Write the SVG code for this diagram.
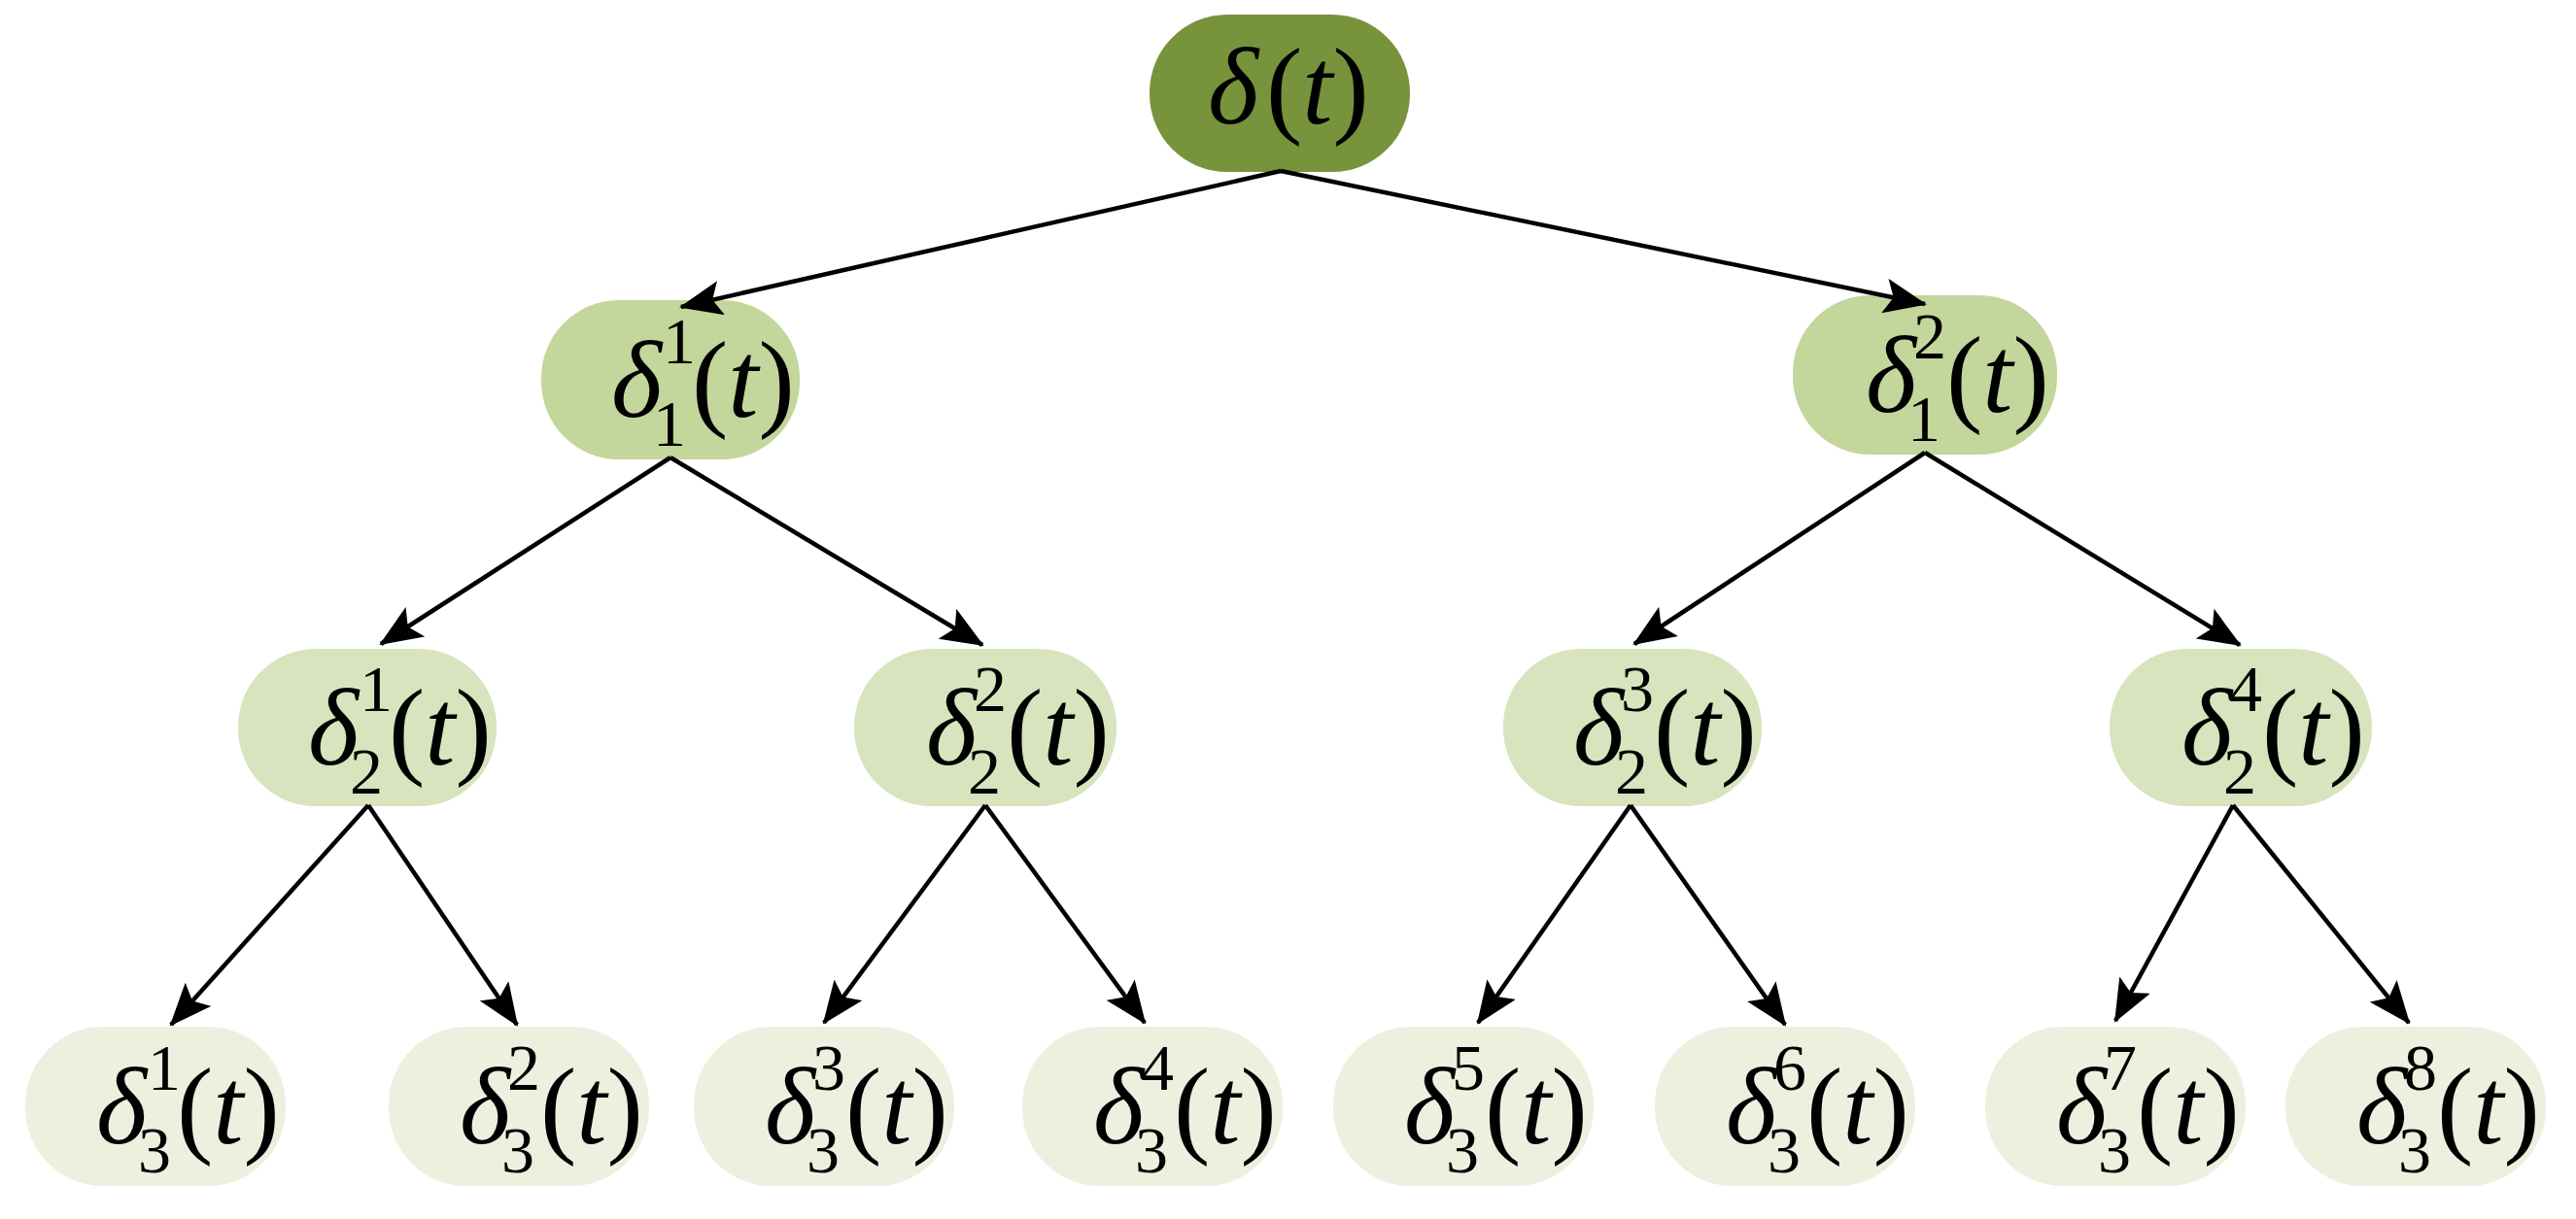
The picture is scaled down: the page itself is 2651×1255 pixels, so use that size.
<svg xmlns="http://www.w3.org/2000/svg" width="2651" height="1255" viewBox="0 0 2651 1255">
<style>
text{font-family:"Liberation Serif","Times New Roman","DejaVu Serif",serif;fill:#000}
.m{font-size:112px}
.i{font-style:italic}
.s{font-size:68px}
.e{stroke:#000;stroke-width:4.5;fill:none;marker-end:url(#a)}
.r{fill:#77933C}.l1{fill:#C3D69B}.l2{fill:#D7E4BD}.l3{fill:#EBF1DE}
</style>
<defs>
<marker id="a" markerUnits="userSpaceOnUse" markerWidth="44" markerHeight="36" viewBox="0 0 44 36" refX="42" refY="18" orient="auto">
<path d="M0,0 L44,18 L0,36 L9,18 Z" fill="#000"/>
</marker>
</defs>
<g id="root" transform="translate(1317,96)">
<rect class="r" x="-134" y="-81" width="268" height="162" rx="80"/>
<text class="m" y="31"><tspan class="i" x="-74">δ</tspan><tspan x="-14">(</tspan><tspan class="i">t</tspan><tspan>)</tspan></text>
</g>
<g id="n1_1" transform="translate(690,391)"><rect class="l1" x="-133" y="-82" width="266" height="164" rx="80"/><text class="m" y="38"><tspan class="i" x="-61">δ</tspan><tspan x="22">(</tspan><tspan class="i">t</tspan><tspan>)</tspan><tspan class="s" x="-8" y="-17">1</tspan><tspan class="s" x="-18" y="68">1</tspan></text></g>
<g id="n1_2" transform="translate(1981,386)"><rect class="l1" x="-136" y="-82" width="272" height="164" rx="80"/><text class="m" y="38"><tspan class="i" x="-61">δ</tspan><tspan x="22">(</tspan><tspan class="i">t</tspan><tspan>)</tspan><tspan class="s" x="-12" y="-17">2</tspan><tspan class="s" x="-18" y="68">1</tspan></text></g>
<g id="n2_1" transform="translate(378,749)"><rect class="l2" x="-133" y="-81" width="266" height="162" rx="80"/><text class="m" y="38"><tspan class="i" x="-61">δ</tspan><tspan x="22">(</tspan><tspan class="i">t</tspan><tspan>)</tspan><tspan class="s" x="-8" y="-17">1</tspan><tspan class="s" x="-18" y="68">2</tspan></text></g>
<g id="n2_2" transform="translate(1014,749)"><rect class="l2" x="-135" y="-81" width="270" height="162" rx="80"/><text class="m" y="38"><tspan class="i" x="-61">δ</tspan><tspan x="22">(</tspan><tspan class="i">t</tspan><tspan>)</tspan><tspan class="s" x="-12" y="-17">2</tspan><tspan class="s" x="-18" y="68">2</tspan></text></g>
<g id="n2_3" transform="translate(1680,749)"><rect class="l2" x="-133" y="-81" width="266" height="162" rx="80"/><text class="m" y="38"><tspan class="i" x="-61">δ</tspan><tspan x="22">(</tspan><tspan class="i">t</tspan><tspan>)</tspan><tspan class="s" x="-12" y="-17">3</tspan><tspan class="s" x="-18" y="68">2</tspan></text></g>
<g id="n2_4" transform="translate(2306,749)"><rect class="l2" x="-135" y="-81" width="270" height="162" rx="80"/><text class="m" y="38"><tspan class="i" x="-61">δ</tspan><tspan x="22">(</tspan><tspan class="i">t</tspan><tspan>)</tspan><tspan class="s" x="-12" y="-17">4</tspan><tspan class="s" x="-18" y="68">2</tspan></text></g>
<g id="n3_1" transform="translate(160,1139)"><rect class="l3" x="-134" y="-82" width="268" height="164" rx="80"/><text class="m" y="38"><tspan class="i" x="-61">δ</tspan><tspan x="22">(</tspan><tspan class="i">t</tspan><tspan>)</tspan><tspan class="s" x="-8" y="-17">1</tspan><tspan class="s" x="-18" y="68">3</tspan></text></g>
<g id="n3_2" transform="translate(534,1139)"><rect class="l3" x="-134" y="-82" width="268" height="164" rx="80"/><text class="m" y="38"><tspan class="i" x="-61">δ</tspan><tspan x="22">(</tspan><tspan class="i">t</tspan><tspan>)</tspan><tspan class="s" x="-12" y="-17">2</tspan><tspan class="s" x="-18" y="68">3</tspan></text></g>
<g id="n3_3" transform="translate(848,1139)"><rect class="l3" x="-134" y="-82" width="268" height="164" rx="80"/><text class="m" y="38"><tspan class="i" x="-61">δ</tspan><tspan x="22">(</tspan><tspan class="i">t</tspan><tspan>)</tspan><tspan class="s" x="-12" y="-17">3</tspan><tspan class="s" x="-18" y="68">3</tspan></text></g>
<g id="n3_4" transform="translate(1186,1139)"><rect class="l3" x="-134" y="-82" width="268" height="164" rx="80"/><text class="m" y="38"><tspan class="i" x="-61">δ</tspan><tspan x="22">(</tspan><tspan class="i">t</tspan><tspan>)</tspan><tspan class="s" x="-12" y="-17">4</tspan><tspan class="s" x="-18" y="68">3</tspan></text></g>
<g id="n3_5" transform="translate(1506,1139)"><rect class="l3" x="-134" y="-82" width="268" height="164" rx="80"/><text class="m" y="38"><tspan class="i" x="-61">δ</tspan><tspan x="22">(</tspan><tspan class="i">t</tspan><tspan>)</tspan><tspan class="s" x="-12" y="-17">5</tspan><tspan class="s" x="-18" y="68">3</tspan></text></g>
<g id="n3_6" transform="translate(1837,1139)"><rect class="l3" x="-134" y="-82" width="268" height="164" rx="80"/><text class="m" y="38"><tspan class="i" x="-61">δ</tspan><tspan x="22">(</tspan><tspan class="i">t</tspan><tspan>)</tspan><tspan class="s" x="-12" y="-17">6</tspan><tspan class="s" x="-18" y="68">3</tspan></text></g>
<g id="n3_7" transform="translate(2177,1139)"><rect class="l3" x="-134" y="-82" width="268" height="164" rx="80"/><text class="m" y="38"><tspan class="i" x="-61">δ</tspan><tspan x="22">(</tspan><tspan class="i">t</tspan><tspan>)</tspan><tspan class="s" x="-12" y="-17">7</tspan><tspan class="s" x="-18" y="68">3</tspan></text></g>
<g id="n3_8" transform="translate(2486,1139)"><rect class="l3" x="-134" y="-82" width="268" height="164" rx="80"/><text class="m" y="38"><tspan class="i" x="-61">δ</tspan><tspan x="22">(</tspan><tspan class="i">t</tspan><tspan>)</tspan><tspan class="s" x="-12" y="-17">8</tspan><tspan class="s" x="-18" y="68">3</tspan></text></g>
<g id="connectors">
<line class="e" x1="1318" y1="176" x2="701" y2="316"/>
<line class="e" x1="1318" y1="176" x2="1981" y2="313"/>
<line class="e" x1="690" y1="471" x2="392" y2="663"/>
<line class="e" x1="690" y1="471" x2="1011" y2="664"/>
<line class="e" x1="1981" y1="466" x2="1682" y2="663"/>
<line class="e" x1="1981" y1="466" x2="2305" y2="664"/>
<line class="e" x1="379" y1="829" x2="176" y2="1055"/>
<line class="e" x1="379" y1="829" x2="532" y2="1055"/>
<line class="e" x1="1014" y1="829" x2="848" y2="1053"/>
<line class="e" x1="1014" y1="829" x2="1178" y2="1053"/>
<line class="e" x1="1678" y1="829" x2="1521" y2="1053"/>
<line class="e" x1="1678" y1="829" x2="1837" y2="1055"/>
<line class="e" x1="2298" y1="829" x2="2177" y2="1051"/>
<line class="e" x1="2298" y1="829" x2="2479" y2="1053"/>
</g>
</svg>
